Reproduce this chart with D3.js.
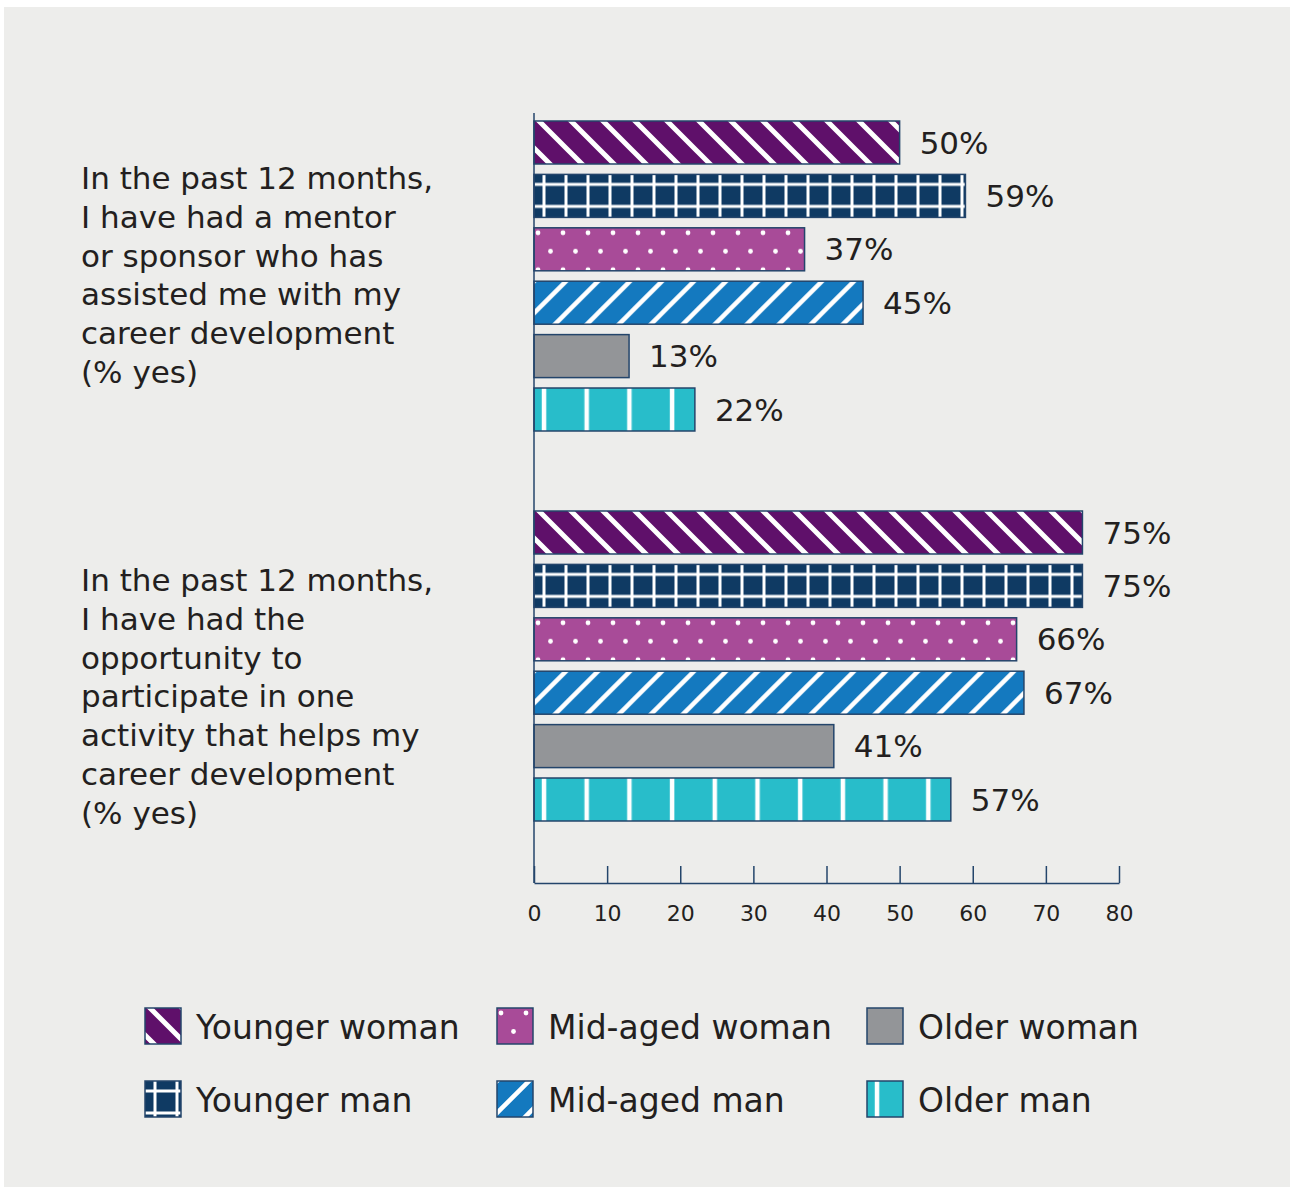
<!DOCTYPE html>
<html>
<head>
<meta charset="utf-8">
<script src="https://cdn.jsdelivr.net/npm/d3@7"></script>
<style>
  html, body { margin: 0; padding: 0; background: #fff; }
  svg { display: block; font-family: "DejaVu Sans", sans-serif; }
</style>
</head>
<body>
<svg id="chart" width="1290" height="1187"></svg>
<script>
// data
const questionKeys = ['mentor', 'activity'];
const questionLines = [
    ['In the past 12 months,', 'I have had a mentor', 'or sponsor who has', 'assisted me with my', 'career development', '(% yes)'],
    ['In the past 12 months,', 'I have had the', 'opportunity to', 'participate in one', 'activity that helps my', 'career development', '(% yes)'],
];
const seriesNames = ['Younger woman', 'Younger man', 'Mid-aged woman', 'Mid-aged man', 'Older woman', 'Older man'];
const mentorValues = [50, 59, 37, 45, 13, 22];
const activityValues = [75, 75, 66, 67, 41, 57];
const xTicks = [0, 10, 20, 30, 40, 50, 60, 70, 80];

const seriesColors = ['#5f106a', '#0f3a63', '#a84b98', '#1479bf', '#939598', '#28bdca'];
const seriesPatterns = ['diagDown', 'grid', 'dots', 'diagUp', 'none', 'vlines'];

const textColor = '#231f20';
const lineColor = '#24456b';

const svg = d3.select('#chart');
const defs = svg.append('defs');

svg.append('rect')
    .attr('x', 4).attr('y', 7)
    .attr('width', 1286).attr('height', 1180)
    .attr('fill', '#ededeb');

// layout
const plotTop = 113;
const axisY = 883;
const xs = d3.scaleLinear().domain([0, 80]).range([534, 1119]);
const yGroup = d3.scaleBand().domain(questionKeys).range([plotTop + 8, plotTop + 8 + 780]);
const yBar = d3.scaleBand().domain(seriesNames).range([0, 310]).paddingInner(0.195);
const labelTop = [189, 591];

// pattern fills, anchored to each mark's top-left corner
const addPattern = (id, kind, color, ox, oy) => {
    if (kind === 'none') return color;
    const p = defs.append('pattern').attr('id', id).attr('patternUnits', 'userSpaceOnUse');
    let w = 32, h = 32, px = ox, py = oy;
    if (kind === 'grid') { w = 22; h = 22; }
    if (kind === 'dots') { w = 25; h = 37; }
    if (kind === 'vlines') { w = 42.7; h = 10; }
    if (kind === 'diagDown') px = ox + 5;
    p.attr('x', px).attr('y', py).attr('width', w).attr('height', h);
    p.append('rect').attr('width', w).attr('height', h).attr('fill', color);
    if (kind === 'diagDown') {
        p.append('path')
            .attr('d', 'M-4,-4L36,36M28,-4L36,4M-4,28L4,36')
            .attr('stroke', '#fff').attr('stroke-width', 5);
    } else if (kind === 'diagUp') {
        p.append('path')
            .attr('d', 'M-4,36L36,-4M-4,4L4,-4M28,36L36,28')
            .attr('stroke', '#fff').attr('stroke-width', 4.5);
    } else if (kind === 'grid') {
        p.append('path')
            .attr('d', 'M10,0V22M0,10H22')
            .attr('stroke', '#fff').attr('stroke-width', 3);
    } else if (kind === 'dots') {
        [[4, 5], [16.5, 23.5]].forEach(([cx, cy]) => {
            p.append('circle').attr('cx', cx).attr('cy', cy).attr('r', 2.4).attr('fill', '#fff');
        });
    } else if (kind === 'vlines') {
        p.append('rect').attr('x', 7.75).attr('width', 4.5).attr('height', h).attr('fill', '#fff');
    }
    return `url(#${id})`;
};

// bars
const rows = [];
[mentorValues, activityValues].forEach((values, qi) => {
    values.forEach((v, si) => rows.push({ q: questionKeys[qi], si, name: seriesNames[si], value: v }));
});

const barY = (d) => yGroup(d.q) + yBar(d.name);

const bars = svg.append('g');
bars.selectAll('rect')
    .data(rows)
    .enter()
    .append('rect')
    .attr('x', xs(0))
    .attr('y', d => barY(d))
    .attr('width', d => xs(d.value) - xs(0))
    .attr('height', yBar.bandwidth())
    .attr('fill', d => addPattern(`p-${d.q}-${d.si}`, seriesPatterns[d.si], seriesColors[d.si], xs(0), barY(d)))
    .attr('stroke', lineColor)
    .attr('stroke-width', 1.5);

bars.selectAll('text')
    .data(rows)
    .enter()
    .append('text')
    .attr('x', d => xs(d.value) + 20)
    .attr('y', d => barY(d) + yBar.bandwidth() / 2)
    .attr('dy', '0.36em')
    .attr('font-size', 31)
    .attr('fill', textColor)
    .text(d => `${d.value}%`);

// axes
svg.append('line')
    .attr('x1', xs(0)).attr('x2', xs(0))
    .attr('y1', plotTop).attr('y2', axisY)
    .attr('stroke', lineColor).attr('stroke-width', 1.5);

const xAxis = svg.append('g')
    .attr('transform', `translate(0,${axisY})`)
    .call(d3.axisBottom(xs).tickValues(xTicks).tickSize(-17).tickSizeOuter(0).tickPadding(22));
xAxis.select('.domain').attr('stroke', lineColor).attr('stroke-width', 1.5);
xAxis.selectAll('.tick line').attr('stroke', lineColor).attr('stroke-width', 1.5);
xAxis.selectAll('.tick text')
    .attr('font-family', '"DejaVu Sans", sans-serif')
    .attr('font-size', 22)
    .attr('fill', textColor);

// question labels
questionLines.forEach((lines, qi) => {
    const t = svg.append('text')
        .attr('x', 81)
        .attr('y', labelTop[qi])
        .attr('font-size', 31)
        .attr('fill', textColor);
    lines.forEach((line, li) => {
        t.append('tspan').attr('x', 81).attr('dy', li === 0 ? 0 : 38.8).text(line);
    });
});

// legend
const legendCols = [145, 497, 867];
const legendRows = [1008, 1081];
const legend = svg.append('g');
seriesNames.forEach((name, si) => {
    const lx = legendCols[Math.floor(si / 2)];
    const ly = legendRows[si % 2];
    legend.append('rect')
        .attr('x', lx).attr('y', ly)
        .attr('width', 36).attr('height', 36)
        .attr('fill', addPattern(`lg-${si}`, seriesPatterns[si], seriesColors[si], lx, ly))
        .attr('stroke', lineColor).attr('stroke-width', 1.5);
    legend.append('text')
        .attr('x', lx + 51)
        .attr('y', ly + 31)
        .attr('font-size', 33)
        .attr('fill', textColor)
        .text(name);
});
</script>
</body>
</html>
